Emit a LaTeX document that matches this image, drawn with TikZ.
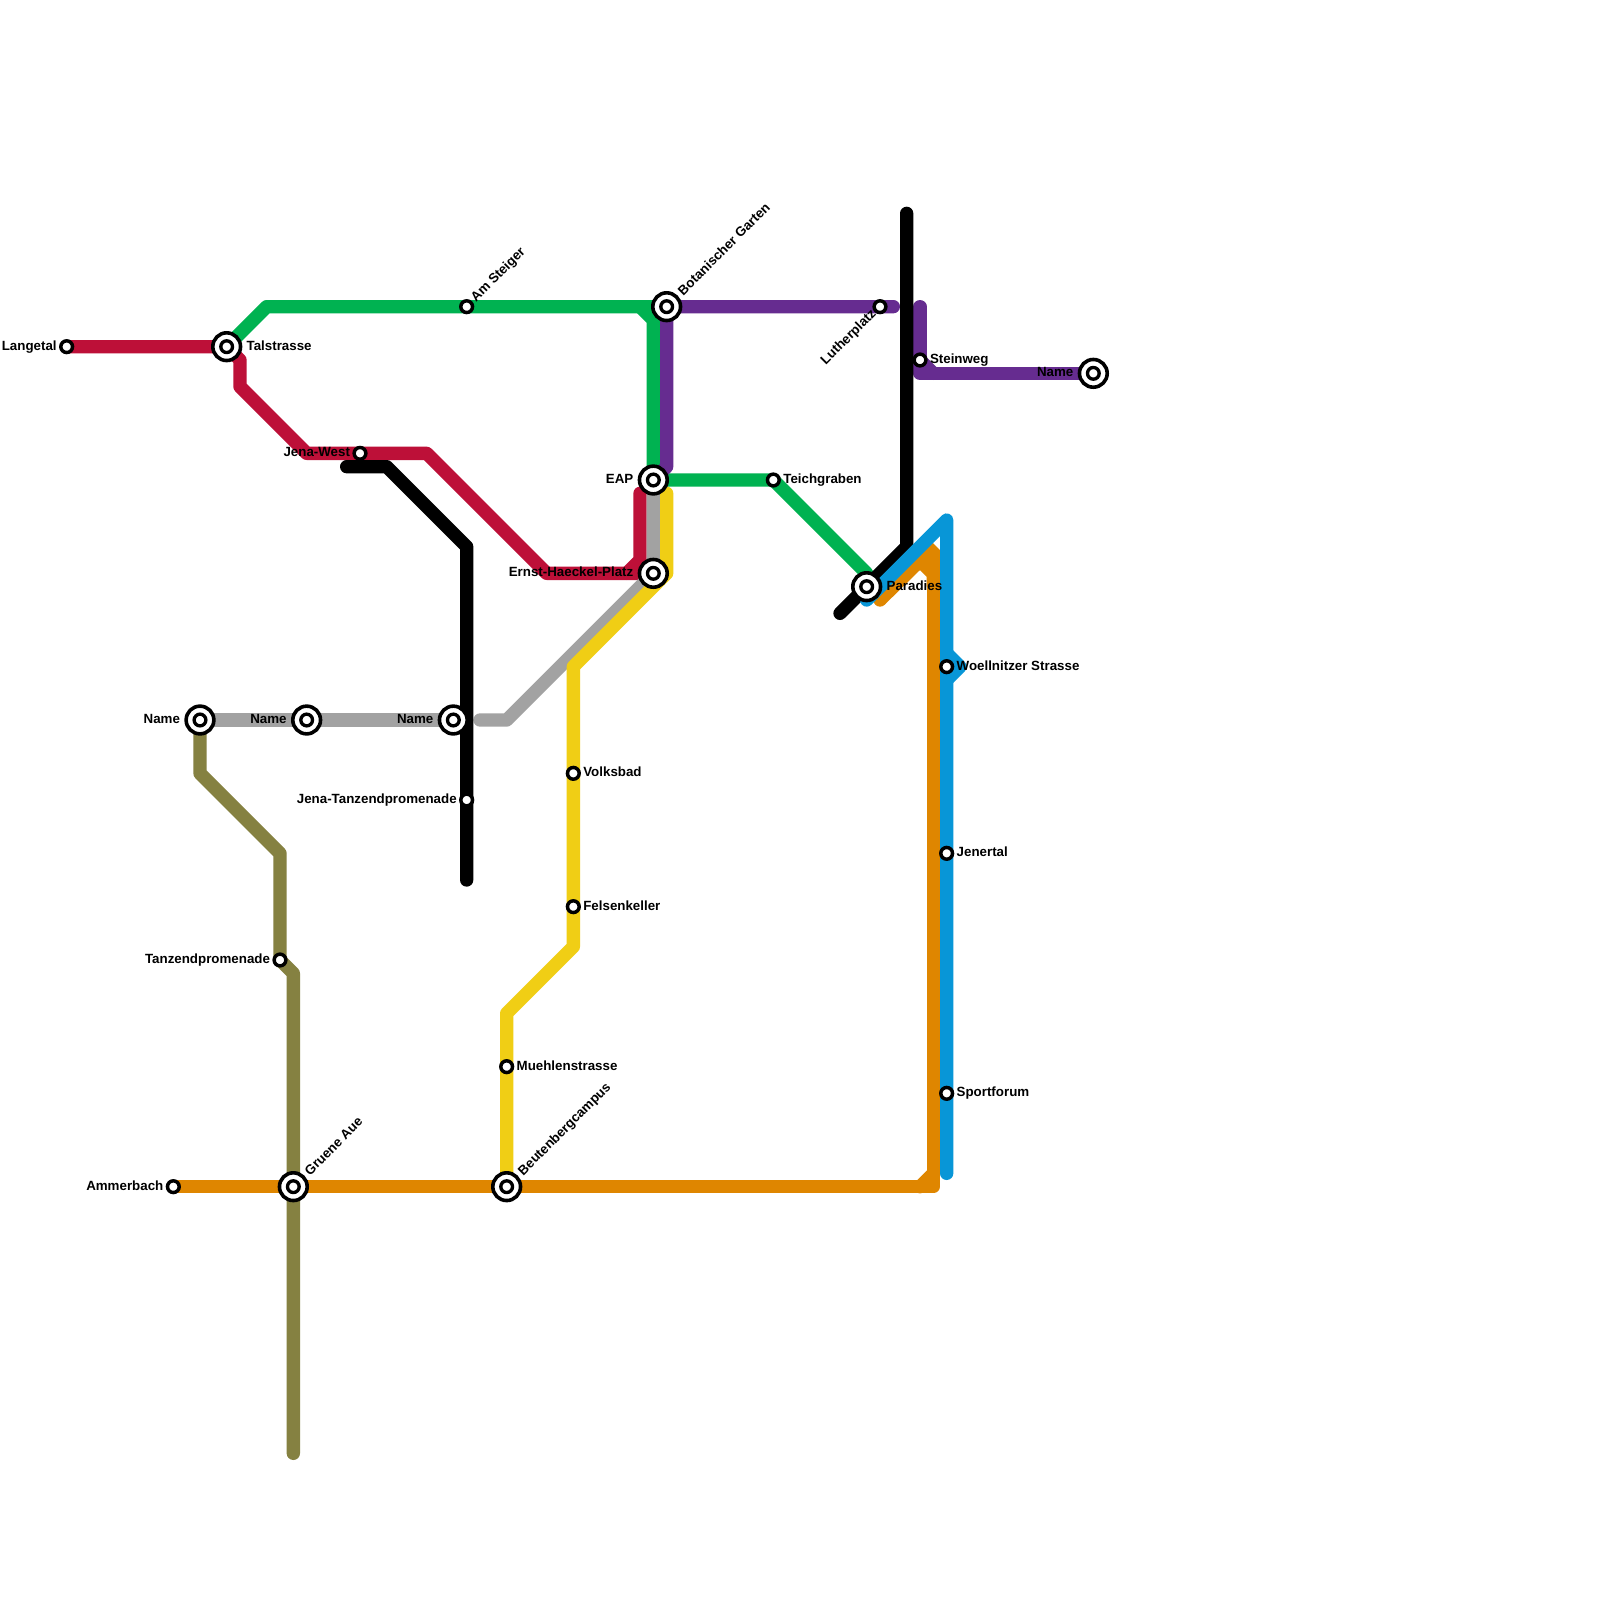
\documentclass[tikz,border=0pt]{standalone}
\usepackage{fontspec}
\setmainfont{Liberation Sans}
\usetikzlibrary{backgrounds}
\definecolor{cred}{HTML}{BD1038}
\definecolor{cgreen}{HTML}{00B251}
\definecolor{cpurple}{HTML}{662C90}
\definecolor{cgrey}{HTML}{A2A2A2}
\definecolor{colive}{HTML}{858141}
\definecolor{corange}{HTML}{DF8600}
\definecolor{cblue}{HTML}{0896D7}
\definecolor{cyellow}{HTML}{F0CE15}
\tikzset{
  x=10pt,y=-10pt,
  metro/.style={line width=10pt,line cap=round,line join=round},
  stopnode/.style={circle,draw=black,fill=white,line width=2.6pt,minimum size=8.8pt,inner sep=0pt,outer sep=0pt},
  hubcore/.style={circle,draw=black,fill=white,line width=2.5pt,minimum size=8.8pt,inner sep=0pt,outer sep=0pt},
  hubnode/.style={circle,draw=black,fill=white,line width=2.7pt,minimum size=20.8pt,inner sep=0pt,outer sep=0pt},
  lbl/.style={font=\fontsize{10}{12}\selectfont\bfseries,inner sep=0pt,outer sep=0pt,text=black},
  lr/.style={lbl,anchor=base west},
  ll/.style={lbl,anchor=base east},
  lur/.style={lbl,anchor=base west,rotate=45},
  lul/.style={lbl,anchor=base east,rotate=45}
}
\begin{document}
\begin{tikzpicture}
\useasboundingbox (0,0) rectangle (120,120);
% stations
\foreach \nm/\x/\y in {langetal/5/26,jenawest/27/34,amsteiger/35/23,lutherplatz/66/23,steinweg/69/27,teichgraben/58/36,woellnitzer/71/50,volksbad/43/58,felsenkeller/43/68,jenertal/71/64,sportforum/71/82,muehlen/38/80,jenatanz/35/60,tanz/21/72,ammerbach/13/89}
  \node[stopnode] (\nm) at (\x,\y) {};
\foreach \nm/\x/\y in {talstrasse/17/26,botanisch/50/23,eap/49/36,ernst/49/43,paradies/65/44,nameright/82/28,namea/15/54,nameb/23/54,namec/34/54,gruene/22/89,beuten/38/89}{
  \node[hubnode] (\nm) at (\x,\y) {};
  \node[hubcore] at (\x,\y) {};
}
\begin{scope}[on background layer]
\fill[white] (0,0) rectangle (120,120);
% green
\draw[metro,cgreen] (talstrasse.center)--(20,23)--(amsteiger.center)--(botanisch.center);
\draw[metro,cgreen] (48,23)--(49,24)--(eap.center)--(teichgraben.center)--(65,43)--(paradies.center);
% purple
\draw[metro,cpurple] (eap.center)--(50,35)--(botanisch.center)--(lutherplatz.center)--(67,23);
\draw[metro,cpurple] (69,23)--(steinweg.center)--(69,28)--(nameright.center);
\draw[metro,cpurple] (steinweg.center)--(70,28);
% red
\draw[metro,cred] (langetal.center)--(talstrasse.center)--(18,27)--(18,29)--(23,34)--(jenawest.center)--(32,34)--(41,43)--(ernst.center);
\draw[metro,cred] (47,43)--(48,42)--(48,37);
% grey
\draw[metro,cgrey] (namea.center)--(nameb.center)--(namec.center);
\draw[metro,cgrey] (36,54)--(38,54)--(ernst.center)--(eap.center);
% olive
\draw[metro,colive] (namea.center)--(15,58)--(21,64)--(tanz.center)--(22,73)--(gruene.center)--(22,109);
% yellow
\draw[metro,cyellow] (50,37)--(50,43)--(43,50)--(volksbad.center)--(felsenkeller.center)--(43,71)--(38,76)--(muehlen.center)--(beuten.center);
% black
\draw[metro,black] (26,35)--(29,35)--(35,41)--(jenatanz.center)--(35,66);
\draw[metro,black] (68,16)--(68,41)--(paradies.center)--(63,46);
% orange
\draw[metro,corange] (ammerbach.center)--(gruene.center)--(beuten.center)--(70,89)--(70,44);
\draw[metro,corange] (69,89)--(70,88);
\fill[corange] (66.35,45.35)--(65.65,44.65)--(69.65,40.65)--(70,40.75)--(70.5,41.25)--(70.5,44)--(69.5,44)--(69.5,43.25)--(69,42.75)--cycle;
\fill[corange] (66,45) circle (5pt);
% blue
\draw[metro,cblue] (65,45)--(71,39)--(woellnitzer.center)--(jenertal.center)--(sportforum.center)--(71,88);
\draw[metro,cblue] (71,49)--(72,50)--(71,51);
\end{scope}
% labels
\node[ll] (t1) at ([shift={(-.75,.25)}]langetal.center) {Langetal};
\node[lr] (t2) at ([shift={(1.5,.25)}]talstrasse.center) {Talstrasse};
\node[ll] (t3) at ([shift={(-.75,.25)}]jenawest.center) {Jena-West};
\node[lur] (t4) at ([shift={(.7,-.3)}]amsteiger.center) {Am Steiger};
\node[lur] (t5) at ([shift={(1.25,-.8)}]botanisch.center) {Botanischer Garten};
\node[lul] (t6) at ([shift={(-.25,.6)}]lutherplatz.center) {Lutherplatz};
\node[lr] (t7) at ([shift={(.75,.25)}]steinweg.center) {Steinweg};
\node[ll] (t8) at ([shift={(-1.5,.25)}]nameright.center) {Name};
\node[ll] (t9) at ([shift={(-1.5,.25)}]eap.center) {EAP};
\node[ll] (t10) at ([shift={(-1.5,.25)}]ernst.center) {Ernst-Haeckel-Platz};
\node[lr] (t11) at ([shift={(.75,.25)}]teichgraben.center) {Teichgraben};
\node[lr] (t12) at ([shift={(1.5,.25)}]paradies.center) {Paradies};
\node[lr] (t13) at ([shift={(.75,.25)}]woellnitzer.center) {Woellnitzer Strasse};
\node[lr] (t14) at ([shift={(.75,.25)}]jenertal.center) {Jenertal};
\node[lr] (t15) at ([shift={(.75,.25)}]sportforum.center) {Sportforum};
\node[ll] (t16) at ([shift={(-1.5,.25)}]namea.center) {Name};
\node[ll] (t17) at ([shift={(-1.5,.25)}]nameb.center) {Name};
\node[ll] (t18) at ([shift={(-1.5,.25)}]namec.center) {Name};
\node[ll] (t19) at ([shift={(-.75,.25)}]jenatanz.center) {Jena-Tanzendpromenade};
\node[lr] (t20) at ([shift={(.75,.25)}]volksbad.center) {Volksbad};
\node[lr] (t21) at ([shift={(.75,.25)}]felsenkeller.center) {Felsenkeller};
\node[lr] (t22) at ([shift={(.75,.25)}]muehlen.center) {Muehlenstrasse};
\node[ll] (t23) at ([shift={(-.75,.25)}]tanz.center) {Tanzendpromenade};
\node[ll] (t24) at ([shift={(-.75,.25)}]ammerbach.center) {Ammerbach};
\node[lur] (t25) at ([shift={(1.25,-.8)}]gruene.center) {Gruene Aue};
\node[lur] (t26) at ([shift={(1.25,-.8)}]beuten.center) {Beutenbergcampus};
\end{tikzpicture}
\end{document}
